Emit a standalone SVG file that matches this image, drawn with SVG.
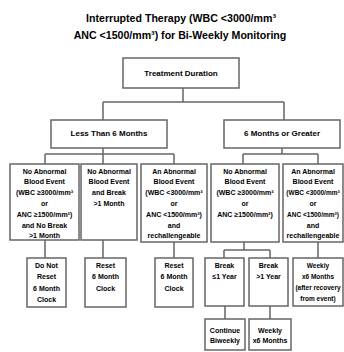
<svg xmlns="http://www.w3.org/2000/svg" width="344" height="352" viewBox="0 0 344 352">
<style>
text{font-family:"Liberation Sans",Arial,sans-serif;font-weight:bold;fill:#000;text-anchor:middle}
.t{font-size:10.6px}
.h{font-size:8px}
.s{font-size:7px}
.xs{font-size:6.5px}
rect{fill:#fff;stroke:#666;stroke-width:1.5}
#connectors path{fill:none;stroke:#666;stroke-width:1.5}
</style>
<rect x="0" y="0" width="344" height="352" style="stroke:none"/>
<g id="title">
<text class="t" x="181" y="21.5">Interrupted Therapy (WBC &lt;3000/mm³</text>
<text class="t" x="180" y="38.5">ANC &lt;1500/mm³) for Bi-Weekly Monitoring</text>
</g>
<g id="connectors">
<path d="M183 88V102M103 102H284M103 102V120M284 102V120"/>
<path d="M103 148V164M45 154H174M45 154V164M174 154V164"/>
<path d="M282 148V154M243 154H318M243 154V164M318 154V164"/>
<path d="M45 240V258M103 240V258M174 242V258"/>
<path d="M244 242V250M224 250H270M224 250V258M270 250V258M318 242V258"/>
<path d="M225 306V319M270 306V319"/>
</g>
<g id="n-duration"><rect x="123" y="58" width="116" height="30"/><text class="h" x="181" y="76">Treatment Duration</text></g>
<g id="n-less"><rect x="51" y="120" width="116" height="28"/><text class="h" x="109" y="136">Less Than 6 Months</text></g>
<g id="n-greater"><rect x="224" y="120" width="116" height="28"/><text class="h" x="282" y="136">6 Months or Greater</text></g>
<g id="n-b1"><rect x="10" y="164" width="69" height="76"/>
<text class="s" x="44.5" y="173.5">No Abnormal</text>
<text class="s" x="44.5" y="184.3">Blood Event</text>
<text class="s" x="44.5" y="195.1">(WBC ≥3000/mm³</text>
<text class="s" x="44.5" y="205.9">or</text>
<text class="s" x="44.5" y="216.7">ANC ≥1500/mm³)</text>
<text class="s" x="44.5" y="227.5">and No Break</text>
<text class="s" x="44.5" y="238.3">&gt;1 Month</text></g>
<g id="n-b2"><rect x="81" y="164" width="56" height="76"/>
<text class="s" x="109" y="173.5">No Abnormal</text>
<text class="s" x="109" y="184.3">Blood Event</text>
<text class="s" x="109" y="195.1">and Break</text>
<text class="s" x="109" y="205.9">&gt;1 Month</text></g>
<g id="n-b3"><rect x="141" y="164" width="66" height="78"/>
<text class="s" x="174" y="173.5">An Abnormal</text>
<text class="s" x="174" y="184.3">Blood Event</text>
<text class="s" x="174" y="195.1">(WBC &lt;3000/mm³</text>
<text class="s" x="174" y="205.9">or</text>
<text class="s" x="174" y="216.7">ANC &lt;1500/mm³)</text>
<text class="s" x="174" y="227.5">and</text>
<text class="s" x="174" y="238.3">rechallengeable</text></g>
<g id="n-b4"><rect x="211" y="164" width="68" height="78"/>
<text class="s" x="245" y="173.5">No Abnormal</text>
<text class="s" x="245" y="184.3">Blood Event</text>
<text class="s" x="245" y="195.1">(WBC ≥3000/mm³</text>
<text class="s" x="245" y="205.9">or</text>
<text class="s" x="245" y="216.7">ANC ≥1500/mm³)</text></g>
<g id="n-b5"><rect x="283" y="164" width="60" height="78"/>
<text class="s" x="313" y="173.5">An Abnormal</text>
<text class="s" x="313" y="184.3">Blood Event</text>
<text class="xs" x="313" y="195.1">(WBC &lt;3000/mm³</text>
<text class="s" x="313" y="205.9">or</text>
<text class="xs" x="313" y="216.7">ANC &lt;1500/mm³)</text>
<text class="s" x="313" y="227.5">and</text>
<text class="s" x="313" y="238.3">rechallengeable</text></g>
<g id="n-c1"><rect x="27" y="258" width="39" height="49"/>
<text class="s" x="46.5" y="267.5">Do Not</text>
<text class="s" x="46.5" y="279">Reset</text>
<text class="s" x="46.5" y="290.5">6 Month</text>
<text class="s" x="46.5" y="302">Clock</text></g>
<g id="n-c2"><rect x="85" y="258" width="41" height="49"/>
<text class="s" x="105.5" y="267.5">Reset</text>
<text class="s" x="105.5" y="279">6 Month</text>
<text class="s" x="105.5" y="290.5">Clock</text></g>
<g id="n-c3"><rect x="155" y="258" width="38" height="49"/>
<text class="s" x="174" y="267.5">Reset</text>
<text class="s" x="174" y="279">6 Month</text>
<text class="s" x="174" y="290.5">Clock</text></g>
<g id="n-c4"><rect x="205" y="258" width="39" height="48"/>
<text class="s" x="224.5" y="267.5">Break</text>
<text class="s" x="224.5" y="279">≤1 Year</text></g>
<g id="n-c5"><rect x="249" y="258" width="39" height="48"/>
<text class="s" x="268.5" y="267.5">Break</text>
<text class="s" x="268.5" y="279">&gt;1 Year</text></g>
<g id="n-c6"><rect x="293" y="258" width="50" height="48"/>
<text class="xs" x="318" y="267.5">Weekly</text>
<text class="xs" x="318" y="278.5">x6 Months</text>
<text class="xs" x="318" y="289.5">(after recovery</text>
<text class="xs" x="318" y="300.5">from event)</text></g>
<g id="n-d1"><rect x="205" y="319" width="40" height="31"/>
<text class="s" x="225" y="332.5">Continue</text>
<text class="s" x="225" y="343">Biweekly</text></g>
<g id="n-d2"><rect x="249" y="319" width="42" height="31"/>
<text class="s" x="270" y="332.5">Weekly</text>
<text class="s" x="270" y="343">x6 Months</text></g>
</svg>
